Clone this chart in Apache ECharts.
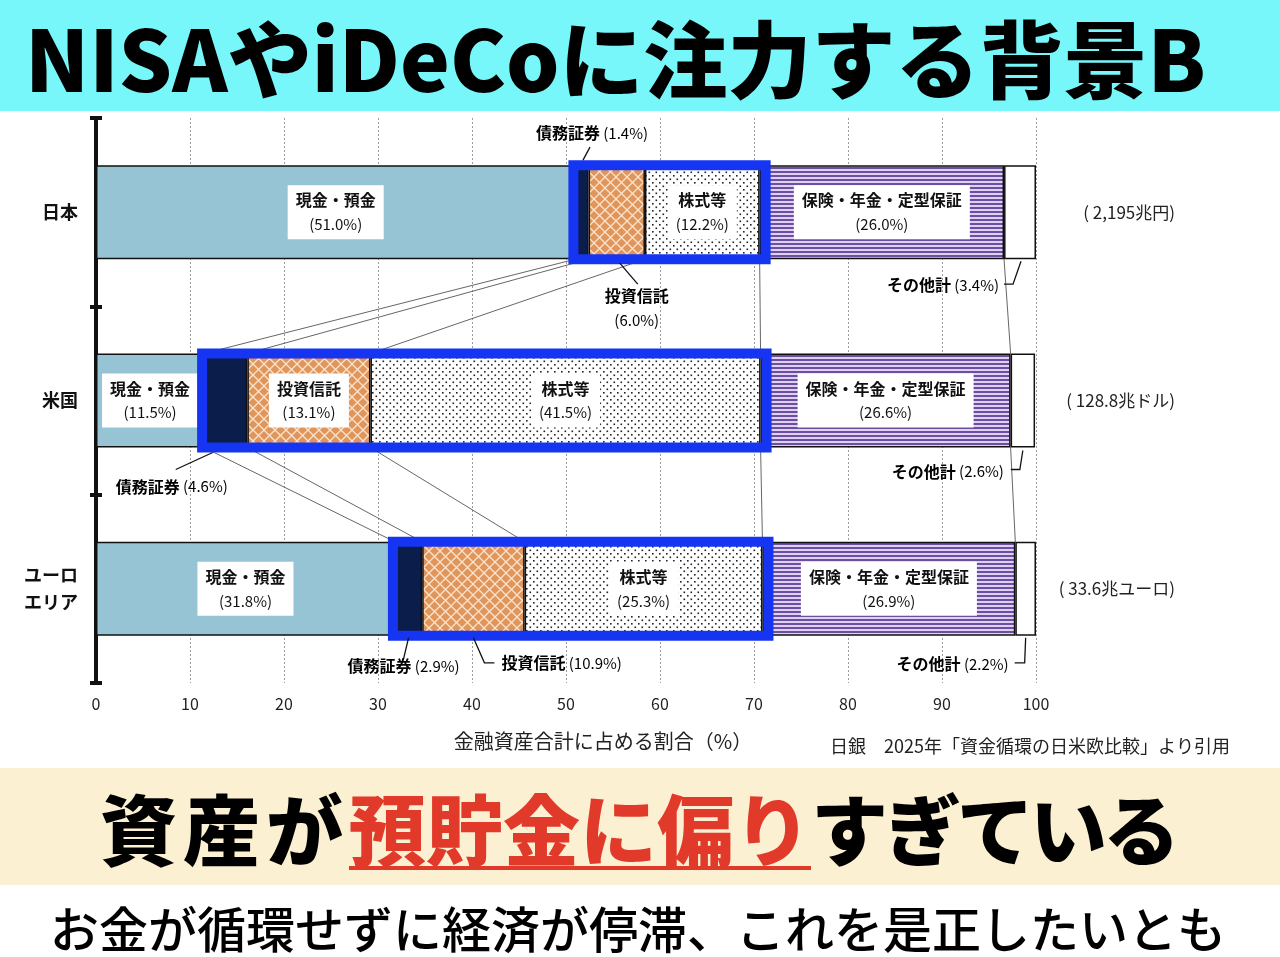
<!DOCTYPE html>
<html>
<head>
<meta charset="utf-8">
<script src="https://cdn.jsdelivr.net/npm/echarts@6/dist/echarts.min.js"></script>
<style>
  body { margin: 0; width: 1280px; height: 957px; overflow: hidden; background: #fff; font-family: "Noto Sans CJK JP", sans-serif; }
  #title { position: absolute; left: 0; top: 0; width: 1280px; height: 111px; background: #78f7fa; }
  #title span { position: absolute; left: 25px; top: 0; font-size: 84px; font-weight: 900; line-height: 111px; color: #000; white-space: nowrap; }
  #chart { position: absolute; left: 0; top: 111px; width: 1280px; height: 657px; }
  #lead { position: absolute; left: 0; top: 768px; width: 1280px; height: 117px; background: #fbf0d1; }
  #lead span.t { position: absolute; left: 100px; top: 0; font-size: 77px; font-weight: 900; line-height: 117px; color: #000; white-space: nowrap; }
  #lead .head { letter-spacing: 6px; }
  #lead .tail { letter-spacing: -4px; }
  #lead .red { color: #e23a2a; text-decoration: underline; text-decoration-color: #e23a2a; text-decoration-thickness: 4px; text-underline-offset: 6px; }
  #sub { position: absolute; left: 0; top: 885px; width: 1280px; height: 72px; overflow: hidden; background: #fff; }
  #sub span { position: absolute; left: 50px; top: 0; font-size: 49px; font-weight: 500; line-height: 84px; color: #000; white-space: nowrap; }
</style>
</head>
<body>
<div id="title"><span>NISAやiDeCoに注力する背景B</span></div>
<div id="chart"></div>
<div id="lead"><span class="t"><span class="head">資産が</span><span class="red">預貯金に偏り</span><span class="tail">すぎている</span></span></div>
<div id="sub"><span>お金が循環せずに経済が停滞、これを是正したいとも</span></div>
<script>
const FONT = '"Noto Sans CJK JP", sans-serif'

// データ（金融資産構成比 %）
const regions = ['日本', '米国', 'ユーロ\nエリア']
const regionTotals = ['( 2,195兆円)', '( 128.8兆ドル)', '( 33.6兆ユーロ)']
const assetNames = ['現金・預金', '債務証券', '投資信託', '株式等', '保険・年金・定型保証', 'その他計']
const cashDeposits = [51.0, 11.5, 31.8]
const debtSecurities = [1.4, 4.6, 2.9]
const investmentTrusts = [6.0, 13.1, 10.9]
const equities = [12.2, 41.5, 25.3]
const insurancePension = [26.0, 26.6, 26.9]
const others = [3.4, 2.6, 2.2]
const xTicks = [0, 10, 20, 30, 40, 50, 60, 70, 80, 90, 100]

const assetValues = [cashDeposits, debtSecurities, investmentTrusts, equities, insurancePension, others]

const BAR_HEIGHT = 94
const HALF = BAR_HEIGHT / 2
// これ未満の幅はバーの外に吹き出しで表示
const INSIDE_MIN = 11

// 柄（パターン）
function makePattern(w, h, draw) {
  const c = document.createElement('canvas')
  c.width = w
  c.height = h
  draw(c.getContext('2d'))
  return { image: c, repeat: 'repeat' }
}
const latticePattern = makePattern(11, 11, (ctx) => {
  ctx.fillStyle = '#e0955b'
  ctx.fillRect(0, 0, 11, 11)
  ctx.strokeStyle = '#fbe4cf'
  ctx.lineWidth = 1.3
  ctx.beginPath()
  ctx.moveTo(0, 0); ctx.lineTo(11, 11)
  ctx.moveTo(11, 0); ctx.lineTo(0, 11)
  ctx.stroke()
})
const dotPattern = makePattern(7, 7, (ctx) => {
  ctx.fillStyle = '#fff'
  ctx.fillRect(0, 0, 7, 7)
  ctx.fillStyle = '#222'
  ctx.fillRect(1, 1, 1.6, 1.6)
  ctx.fillRect(4.5, 4.5, 1.6, 1.6)
})
const stripePattern = makePattern(4, 4, (ctx) => {
  ctx.fillStyle = '#ddd0f2'
  ctx.fillRect(0, 0, 4, 4)
  ctx.fillStyle = '#6d4fa2'
  ctx.fillRect(0, 0, 4, 2)
})
const segmentColors = ['#97c4d5', '#0b1d4b', latticePattern, dotPattern, stripePattern, '#fff']

// 累積値
const cumulative = regions.map((r, i) => {
  let sum = 0
  return assetValues.map((arr) => (sum += arr[i]))
})

// 吹き出しの配置（セグメント中心・棒の上下端からのずれ, px）
const calloutLayout = {
  '0-1': { side: 'top', leader: [[1, -5], [8, -18]], at: [10, -32], align: 'center' },
  '0-2': { side: 'bottom', leader: [[3, 4], [21, 25]], at: [20, 49], align: 'center', wrap: true },
  '0-5': { side: 'bottom', leader: [[1, 2], [-7, 25], [-16, 25]], at: [-21, 26], align: 'right' },
  '1-1': { side: 'bottom', leader: [[-13, 5], [-50, 22]], at: [-54, 39], align: 'center' },
  '1-5': { side: 'bottom', leader: [[0, 3], [-3, 22], [-12, 22]], at: [-19, 24], align: 'right' },
  '2-1': { side: 'bottom', leader: [[0, 2], [-5, 23]], at: [-5, 30], align: 'center' },
  '2-2': { side: 'bottom', leader: [[0, 2], [11, 27], [21, 27]], at: [28, 27], align: 'left' },
  '2-5': { side: 'bottom', leader: [[0, 2], [-1, 27], [-11, 27]], at: [-17, 28], align: 'right' },
}

const labelRich = {
  n: { fontSize: 16, fontWeight: 'bold', color: '#111', lineHeight: 24, fontFamily: FONT },
  v: { fontSize: 15, color: '#111', lineHeight: 24, fontFamily: FONT },
}

const barSeries = assetNames.map((name, s) => ({
  type: 'bar',
  name,
  stack: 'total',
  barWidth: BAR_HEIGHT,
  z: 2,
  itemStyle: { color: segmentColors[s], borderColor: '#111', borderWidth: 1.5 },
  label: {
    position: 'inside',
    backgroundColor: '#fff',
    padding: [3, 8],
    formatter: (p) => `{n|${name}}\n{v|(${p.value.toFixed(1)}%)}`,
    rich: labelRich,
  },
  data: assetValues[s].map((v) => ({ value: v, label: { show: v >= INSIDE_MIN } })),
}))

// 棒どうしをつなぐ線
const linkData = []
for (let i = 0; i < regions.length - 1; i++) {
  for (let k = 0; k < assetNames.length - 1; k++) {
    linkData.push([cumulative[i][k], i, cumulative[i + 1][k]])
  }
}

// 青枠（債務証券〜株式等）
const boxData = regions.map((r, i) => [cumulative[i][0], i, cumulative[i][3]])

// 吹き出しのデータ
const calloutData = []
regions.forEach((r, i) => {
  assetValues.forEach((arr, s) => {
    if (arr[i] < INSIDE_MIN) {
      calloutData.push([cumulative[i][s] - arr[i] / 2, i, s])
    }
  })
})

const chart = echarts.init(document.getElementById('chart'))
chart.setOption({
  animation: false,
  textStyle: { fontFamily: FONT },
  grid: { left: 96, right: 244, top: 7, bottom: 85 },
  xAxis: {
    type: 'value',
    min: xTicks[0],
    max: xTicks[xTicks.length - 1],
    interval: xTicks[1] - xTicks[0],
    axisLine: { show: false },
    axisTick: { show: false },
    splitLine: { lineStyle: { color: '#9a9a9a', type: [2, 2], width: 1 } },
    axisLabel: { fontSize: 16, color: '#222', margin: 13 },
    name: '金融資産合計に占める割合（%）',
    nameLocation: 'middle',
    nameGap: 48,
    nameTextStyle: { fontSize: 20, color: '#222', padding: [0, 0, 0, 74] },
  },
  yAxis: [
    {
      type: 'category',
      data: regions,
      inverse: true,
      axisLine: { lineStyle: { color: '#111', width: 4 } },
      axisTick: { show: true, length: 6, lineStyle: { color: '#111', width: 4 } },
      axisLabel: { fontSize: 18, fontWeight: 'bold', color: '#111', margin: 18, lineHeight: 27 },
    },
    {
      type: 'category',
      data: regions,
      inverse: true,
      position: 'left',
      axisLine: { show: false },
      axisTick: { show: true, inside: true, length: 6, lineStyle: { color: '#111', width: 4 } },
      axisLabel: { show: false },
    },
    {
      type: 'category',
      data: regions,
      inverse: true,
      position: 'right',
      axisLine: { show: false },
      axisTick: { show: false },
      axisLabel: {
        fontSize: 17,
        color: '#222',
        margin: 139,
        align: 'right',
        padding: [0, 0, 8, 0],
        formatter: (v, i) => regionTotals[i],
      },
    },
  ],
  graphic: [
    {
      type: 'text',
      right: 50,
      top: 626,
      style: { text: '日銀　2025年「資金循環の日米欧比較」より引用', fontSize: 18, fill: '#222', fontFamily: FONT },
    },
  ],
  series: [
    ...barSeries,
    {
      type: 'custom',
      name: 'links',
      z: 1,
      silent: true,
      data: linkData,
      renderItem: (params, api) => {
        const i = api.value(1)
        const p1 = api.coord([api.value(0), i])
        const p2 = api.coord([api.value(2), i + 1])
        return {
          type: 'line',
          shape: { x1: p1[0], y1: p1[1] + HALF, x2: p2[0], y2: p2[1] - HALF },
          style: { stroke: '#555', lineWidth: 0.9 },
        }
      },
    },
    {
      type: 'custom',
      name: 'boxes',
      z: 3,
      silent: true,
      data: boxData,
      renderItem: (params, api) => {
        const i = api.value(1)
        const p1 = api.coord([api.value(0), i])
        const p2 = api.coord([api.value(2), i])
        return {
          type: 'rect',
          shape: { x: p1[0] - 2, y: p1[1] - HALF, width: p2[0] - p1[0] + 8, height: BAR_HEIGHT },
          style: { stroke: '#1535f2', lineWidth: 10, fill: null },
        }
      },
    },
    {
      type: 'custom',
      name: 'callouts',
      z: 4,
      silent: true,
      data: calloutData,
      renderItem: (params, api) => {
        const i = api.value(1)
        const s = api.value(2)
        const c = calloutLayout[`${i}-${s}`]
        const p = api.coord([api.value(0), i])
        const ay = p[1] + (c.side === 'top' ? -HALF : HALF)
        const pts = c.leader.map(([dx, dy]) => [p[0] + dx, ay + dy])
        const pct = `(${assetValues[s][i].toFixed(1)}%)`
        return {
          type: 'group',
          children: [
            {
              type: 'polyline',
              shape: { points: pts },
              style: { stroke: '#111', lineWidth: 1.3, fill: null },
            },
            {
              type: 'text',
              x: p[0] + c.at[0],
              y: ay + c.at[1],
              style: {
                text: `{n|${assetNames[s]}}${c.wrap ? '\n' : ' '}{v|${pct}}`,
                rich: labelRich,
                align: c.align,
                verticalAlign: 'middle',
              },
            },
          ],
        }
      },
    },
  ],
})
</script>
</body>
</html>
